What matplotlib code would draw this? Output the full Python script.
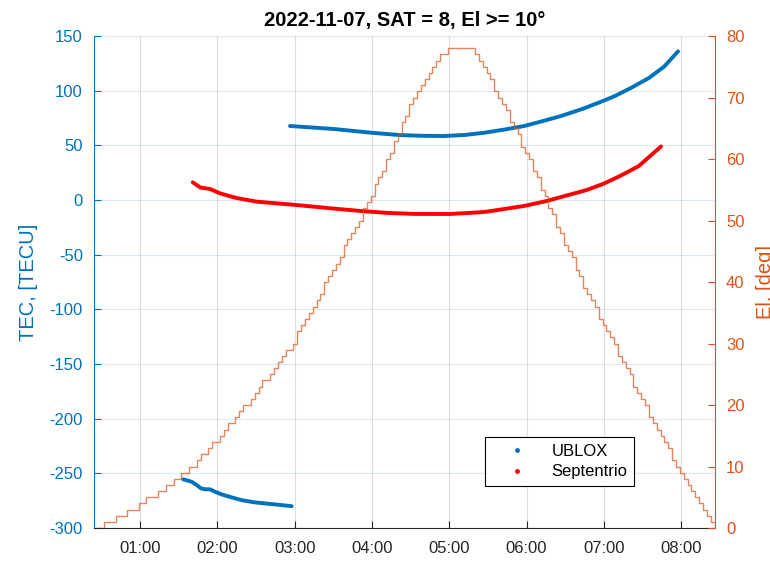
import numpy as np
import matplotlib
matplotlib.use("Agg")
import matplotlib.pyplot as plt
from matplotlib.lines import Line2D

plt.rcParams['font.family'] = ['Liberation Sans', 'DejaVu Sans']
plt.rcParams['axes.unicode_minus'] = False

# time in hours of day
ublox_t1 = [1.560, 1.669, 1.733, 1.789, 1.841, 1.906, 1.970, 2.057, 2.186, 2.316, 2.488, 2.703, 2.962]
ublox_v1 = [-255.5, -257.7, -260.7, -263.7, -264.6, -264.6, -266.8, -269.3, -272.0, -274.5, -276.6, -278.1, -280.0]
ublox_t2 = [2.94, 3.5, 3.98, 4.36, 4.62, 4.92, 5.2, 5.45, 5.72, 5.97, 6.2, 6.43, 6.71, 6.95, 7.14, 7.35, 7.58, 7.78, 7.96]
ublox_v2 = [67.7, 65.0, 61.6, 59.4, 58.8, 58.5, 59.5, 61.5, 64.5, 67.7, 72.0, 76.5, 83.0, 89.5, 95.0, 102.5, 111.5, 122.0, 136.0]

sept_t = [1.682, 1.733, 1.785, 1.906, 2.035, 2.25, 2.51, 3.03, 3.5, 3.85, 4.2, 4.54, 5.0, 5.4, 5.49, 5.97, 6.26, 6.78, 7.0, 7.21, 7.45, 7.74]
sept_v = [16.2, 13.7, 11.3, 10.1, 6.1, 1.8, -1.5, -4.6, -7.8, -10.0, -11.8, -12.7, -12.8, -11.2, -10.6, -5.4, -0.9, 9.2, 15.0, 22.0, 31.0, 49.0]

# elevation, one sample every 3 minutes starting 00:26
el_start_min = 26
el_step_min = 3
el_deg = [0, 0, 1, 1, 1, 2, 2, 2, 3, 3, 3, 4, 4, 5, 5, 5, 6, 6, 7, 7,
          8, 8, 9, 9, 10, 10, 11, 12, 12, 13, 14, 14, 15, 16, 17, 17, 18, 19, 20, 20,
          21, 22, 23, 24, 24, 25, 26, 27, 28, 29, 29, 30, 32, 33, 34, 35, 36, 37, 38, 40,
          41, 42, 43, 44, 46, 47, 48, 49, 50, 52, 53, 54, 56, 57, 58, 60, 61, 63, 64, 66,
          67, 69, 70, 71, 72, 73, 74, 75, 76, 77, 77, 78, 78, 78, 78, 78, 78, 78, 77, 76,
          75, 74, 73, 71, 70, 69, 68, 66, 65, 64, 62, 61, 60, 58, 57, 55, 54, 52, 51, 49,
          48, 46, 45, 44, 42, 41, 39, 38, 37, 36, 34, 33, 32, 31, 30, 28, 27, 26, 25, 23,
          22, 21, 20, 18, 17, 16, 15, 14, 13, 11, 10, 9, 8, 7, 6, 5, 4, 3, 2, 1, 0]
el_t = (el_start_min + el_step_min * np.arange(len(el_deg))) / 60.0

hour_ticks = [1, 2, 3, 4, 5, 6, 7, 8]
hour_labels = ["01:00", "02:00", "03:00", "04:00", "05:00", "06:00", "07:00", "08:00"]

blue = '#0072BD'
orange = '#D95319'
dark = '#262626'

fig = plt.figure(figsize=(7.7, 5.61), dpi=100)
ax = fig.add_axes([0.1221, 0.0588, 0.8062, 0.877])
ax2 = ax.twinx()

ax.plot(ublox_t1, ublox_v1, color=blue, lw=2.8, solid_capstyle='round')
ax.plot(ublox_t2, ublox_v2, color=blue, lw=2.8, solid_capstyle='round')
ax.plot(sept_t, sept_v, color='red', lw=2.8, solid_capstyle='round')
ax2.plot(el_t, el_deg, color=orange, lw=1.0, drawstyle='steps-post', alpha=0.7)

ax.set_xlim(0.405, 8.435)
ax.set_ylim(-300, 150)
ax.set_yticks(np.arange(-300, 151, 50))
ax2.set_ylim(0, 80)
ax2.set_yticks(np.arange(0, 81, 10))
ax.set_xticks(hour_ticks)
ax.set_xticklabels(hour_labels)

ax.grid(axis='x', color=dark, alpha=0.15, lw=0.8)
ax.grid(axis='y', color=blue, alpha=0.15, lw=0.8)

for a in (ax, ax2):
    a.spines['top'].set_visible(False)
ax.spines['left'].set_color(blue)
ax.spines['right'].set_visible(False)
ax2.spines['left'].set_visible(False)
ax2.spines['right'].set_color(orange)
ax2.spines['bottom'].set_visible(False)
ax.spines['bottom'].set_color(dark)

ax.tick_params(axis='x', direction='in', colors=dark, labelsize=12, pad=9, length=5)
ax.tick_params(axis='y', direction='in', colors=blue, labelsize=12, pad=8, length=5)
ax2.tick_params(axis='y', direction='in', colors=orange, labelsize=12, pad=8, length=5)

ax.set_ylabel('TEC, [TECU]', color=blue, fontsize=14.5, labelpad=8)
ax2.set_ylabel('El, [deg]', color=orange, fontsize=14.5, labelpad=8)
ax.set_title('2022-11-07, SAT = 8, El >= 10°', fontsize=14.5, fontweight='bold', pad=7)

handles = [Line2D([], [], ls='none', marker='o', ms=2.5, color=blue, label='UBLOX'),
           Line2D([], [], ls='none', marker='o', ms=2.5, color='red', label='Septentrio')]
leg = ax2.legend(handles=handles, loc='upper left', bbox_to_anchor=(0.63, 0.185),
                 fontsize=12, frameon=True, fancybox=False, framealpha=1,
                 edgecolor='black', handlelength=3.0, handletextpad=0.6,
                 labelspacing=0.35, borderpad=0.4, borderaxespad=0)
leg.get_frame().set_linewidth(0.8)

fig.savefig('out.png', dpi=100)
